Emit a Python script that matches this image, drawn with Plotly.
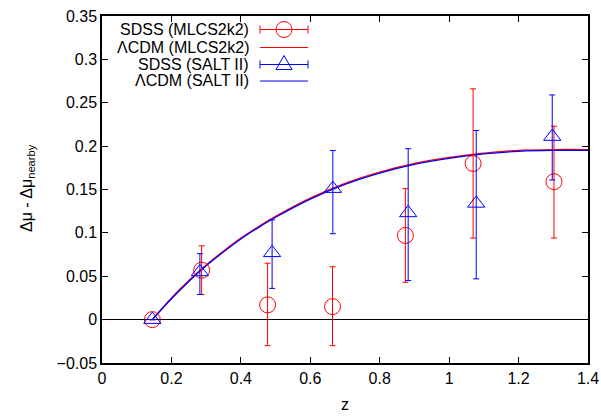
import plotly.graph_objects as go

# ---- data ----
z_mlcs = [0.145, 0.287, 0.477, 0.664, 0.874, 1.069, 1.302]
mu_mlcs = [0.0, 0.057, 0.017, 0.015, 0.097, 0.180, 0.159]
err_up_mlcs = [0.0, 0.028, 0.048, 0.046, 0.054, 0.086, 0.064]
err_dn_mlcs = [0.0, 0.028, 0.047, 0.045, 0.054, 0.086, 0.065]

z_salt = [0.145, 0.282, 0.490, 0.665, 0.882, 1.078, 1.297]
mu_salt = [0.0, 0.055, 0.077, 0.151, 0.123, 0.134, 0.211]
err_up_salt = [0.0, 0.021, 0.038, 0.044, 0.074, 0.084, 0.048]
err_dn_salt = [0.0, 0.026, 0.041, 0.052, 0.078, 0.087, 0.050]

z_model = [0.145, 0.2, 0.25, 0.3, 0.35, 0.4, 0.45, 0.5, 0.6, 0.7, 0.8, 0.9, 1.0, 1.1, 1.2, 1.3, 1.4]
lcdm_mlcs = [0.0, 0.025, 0.045, 0.063, 0.079, 0.094, 0.107, 0.119, 0.140, 0.157, 0.170, 0.180, 0.187, 0.192, 0.195, 0.196, 0.196]
lcdm_salt = [0.0, 0.024, 0.044, 0.062, 0.078, 0.093, 0.106, 0.118, 0.139, 0.156, 0.169, 0.179, 0.186, 0.191, 0.194, 0.195, 0.195]

legend_labels = ["SDSS (MLCS2k2)", "ΛCDM (MLCS2k2)", "SDSS (SALT II)", "ΛCDM (SALT II)"]
x_title = "z"
y_title = "Δμ - Δμ<sub>nearby</sub>"

RED = "#ff0000"
BLUE = "#0000ff"
FONT = "Liberation Sans, Arial, sans-serif"
FS = 16

fig = go.Figure()
fig.add_trace(go.Scatter(x=z_model, y=lcdm_mlcs, mode="lines", line=dict(color=RED, width=1.3),
                         line_shape="spline", showlegend=False))
fig.add_trace(go.Scatter(x=z_model, y=lcdm_salt, mode="lines", line=dict(color=BLUE, width=1.3),
                         line_shape="spline", showlegend=False))
fig.add_trace(go.Scatter(x=z_mlcs, y=mu_mlcs, mode="markers",
                         marker=dict(symbol="circle-open", size=16, color=RED, line=dict(width=1, color=RED)),
                         error_y=dict(type="data", array=err_up_mlcs, arrayminus=err_dn_mlcs,
                                      color=RED, thickness=1, width=3),
                         showlegend=False))
fig.add_trace(go.Scatter(x=z_salt, y=mu_salt, mode="markers",
                         marker=dict(symbol="triangle-up-open", size=15, color=BLUE, line=dict(width=1, color=BLUE)),
                         error_y=dict(type="data", array=err_up_salt, arrayminus=err_dn_salt,
                                      color=BLUE, thickness=1, width=3),
                         showlegend=False))

# ---- custom gnuplot-style legend (paper coords computed from pixels) ----
W, H = 601, 416
L, R, T, B = 102, 13, 16, 53
pw, ph = W - L - R, H - T - B

def px(x):
    return (x - L) / pw

def py(y):
    return (H - B - y) / ph

rows = [29.5, 47.5, 64.5, 81]
colors = [RED, RED, BLUE, BLUE]
shapes = []
annotations = []
x0, x1, xc = 260, 308, 284
for i, (lab, r, c) in enumerate(zip(legend_labels, rows, colors)):
    annotations.append(dict(x=px(251), y=py(r), xref="paper", yref="paper", text=lab,
                            showarrow=False, xanchor="right", yanchor="middle",
                            font=dict(family=FONT, size=FS, color="black")))
    shapes.append(dict(type="line", xref="paper", yref="paper", x0=px(x0), x1=px(x1),
                       y0=py(r), y1=py(r), line=dict(color=c, width=1)))
    if i in (0, 2):
        for xe in (x0, x1):
            shapes.append(dict(type="line", xref="paper", yref="paper", x0=px(xe), x1=px(xe),
                               y0=py(r - 4), y1=py(r + 4), line=dict(color=c, width=1)))
    if i == 0:
        shapes.append(dict(type="circle", xref="paper", yref="paper", x0=px(xc - 8), x1=px(xc + 8),
                           y0=py(r + 8), y1=py(r - 8), line=dict(color=c, width=1)))
    if i == 2:
        path = "M {} {} L {} {} L {} {} Z".format(px(xc - 8), py(r + 5), px(xc + 8), py(r + 5),
                                                  px(xc), py(r - 9))
        shapes.append(dict(type="path", xref="paper", yref="paper", path=path,
                           line=dict(color=c, width=1)))

# axis titles as annotations for exact placement
annotations.append(dict(x=px(345), y=py(404), xref="paper", yref="paper", text=x_title,
                        showarrow=False, xanchor="center", yanchor="middle",
                        font=dict(family=FONT, size=FS, color="black")))
annotations.append(dict(x=px(27), y=py(188), xref="paper", yref="paper", text=y_title,
                        showarrow=False, xanchor="center", yanchor="middle", textangle=-90,
                        font=dict(family=FONT, size=FS, color="black")))

fig.update_layout(
    width=W, height=H,
    margin=dict(l=L, r=R, t=T, b=B, autoexpand=False),
    paper_bgcolor="white", plot_bgcolor="white",
    font=dict(family=FONT, size=FS, color="black"),
    shapes=shapes, annotations=annotations,
    showlegend=False,
)
fig.update_xaxes(range=[0, 1.4], dtick=0.2, tick0=0, ticks="inside", ticklen=6, tickcolor="black",
                 showline=True, linecolor="black", linewidth=1.5, mirror="ticks", showgrid=False,
                 zeroline=False, automargin=False, tickfont=dict(size=FS))
fig.update_yaxes(range=[-0.05, 0.35], dtick=0.05, tick0=0, ticks="inside", ticklen=6, tickcolor="black",
                 showline=True, linecolor="black", linewidth=1.5, mirror="ticks", showgrid=False,
                 zeroline=True, zerolinecolor="black", zerolinewidth=1, automargin=False,
                 tickfont=dict(size=FS))

fig.write_html("out.html")
